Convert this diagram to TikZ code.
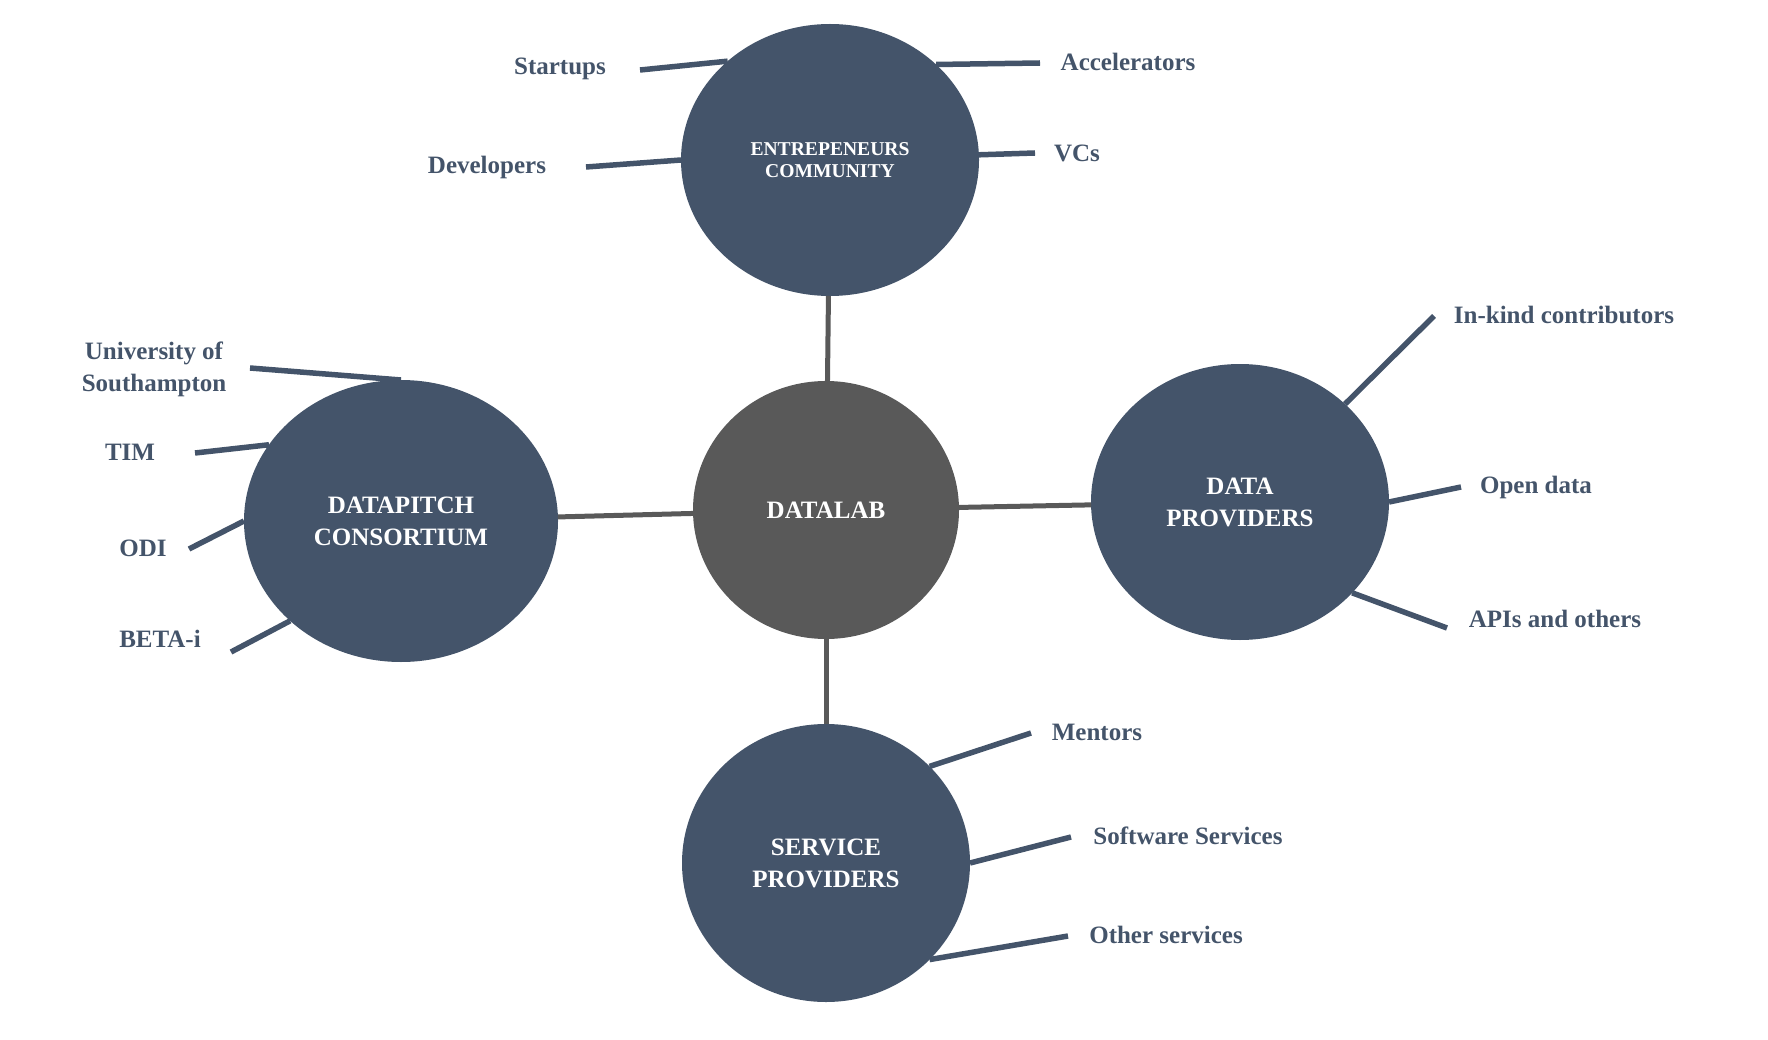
\documentclass[tikz,border=0pt]{standalone}
\usepackage{fontspec}
\setmainfont{Liberation Serif}
\usetikzlibrary{shapes.geometric}
\definecolor{slate}{HTML}{44546A}
\definecolor{dgray}{HTML}{595959}
\begin{document}
\begin{tikzpicture}[x=1pt,y=-1pt,
  hub/.style={ellipse, fill=slate, inner sep=0pt, outer sep=0pt, text=white,
    font=\bfseries\fontsize{25}{32}\selectfont, align=center},
  core/.style={ellipse, fill=dgray, inner sep=0pt, outer sep=0pt, text=white,
    font=\bfseries\fontsize{25}{32}\selectfont, align=center},
  lbl/.style={text=slate, font=\bfseries\fontsize{25}{32}\selectfont, align=center, inner sep=0pt},
  leaf/.style={draw=slate, line width=5.5pt},
  link/.style={draw=dgray, line width=5pt}]
\useasboundingbox (0,0) rectangle (1768,1040);

% hubs
\node[core, minimum width=266pt, minimum height=258pt] (dl) at (826,510) {DATALAB};
\node[hub, minimum width=298pt, minimum height=272pt,
  font=\bfseries\fontsize{19.6}{22.5}\selectfont] (ent) at (830,160) {ENTREPENEURS\\COMMUNITY};
\node[hub, minimum width=314pt, minimum height=282pt] (dp) at (401,521) {DATAPITCH\\CONSORTIUM};
\node[hub, minimum width=298pt, minimum height=276pt] (prov) at (1240,502) {DATA\\PROVIDERS};
\node[hub, minimum width=288pt, minimum height=278pt] (serv) at (826,863) {SERVICE\\PROVIDERS};

% hub links
\draw[link] (dl) -- (ent);
\draw[link] (dl) -- (dp);
\draw[link] (dl) -- (prov);
\draw[link] (dl) -- (serv);

% labels
\node[lbl] (startups) at (560,69) {Startups};
\node[lbl] (accel) at (1128,62) {Accelerators};
\node[lbl] (devs) at (487,167) {Developers};
\node[lbl] (vcs) at (1077,153) {VCs};
\node[lbl] (univ) at (154,369) {University of\\Southampton};
\node[lbl] (tim) at (130,452) {TIM};
\node[lbl] (odi) at (143,548) {ODI};
\node[lbl] (beta) at (160,639) {BETA-i};
\node[lbl] (inkind) at (1564,315) {In-kind contributors};
\node[lbl] (open) at (1536,487) {Open data};
\node[lbl] (apis) at (1555,619) {APIs and others};
\node[lbl] (mentors) at (1097,732) {Mentors};
\node[lbl] (soft) at (1188,836) {Software Services};
\node[lbl] (other) at (1166,935) {Other services};

% leaf end points
\coordinate (e-startups) at (640,70);
\coordinate (e-accel) at (1040,63);
\coordinate (e-devs) at (586,167);
\coordinate (e-vcs) at (1035,153);
\coordinate (e-univ) at (250,368);
\coordinate (e-tim) at (195,453);
\coordinate (e-odi) at (189,549);
\coordinate (e-beta) at (231,652);
\coordinate (e-inkind) at (1434,316);
\coordinate (e-open) at (1461,487);
\coordinate (e-apis) at (1447,628);
\coordinate (e-mentors) at (1031,733);
\coordinate (e-soft) at (1071,837);
\coordinate (e-other) at (1068,936);

% leaf lines
\draw[leaf] (ent.136.7) -- (e-startups);
\draw[leaf] (ent.42.2) -- (e-accel);
\draw[leaf] (ent.180) -- (e-devs);
\draw[leaf] (ent.2) -- (e-vcs);
\draw[leaf] (dp.90) -- (e-univ);
\draw[leaf] (dp.150) -- (e-tim);
\draw[leaf] (dp.180) -- (e-odi);
\draw[leaf] (dp.222.5) -- (e-beta);
\draw[leaf] (prov.43) -- (e-inkind);
\draw[leaf] (prov.0) -- (e-open);
\draw[leaf] (prov.-39.4) -- (e-apis);
\draw[leaf] (serv.43.6) -- (e-mentors);
\draw[leaf] (serv.0) -- (e-soft);
\draw[leaf] (serv.-43.3) -- (e-other);
\end{tikzpicture}
\end{document}
